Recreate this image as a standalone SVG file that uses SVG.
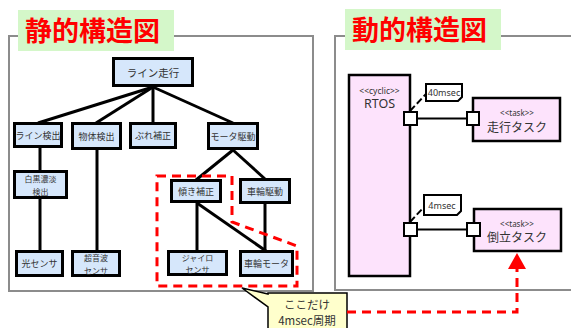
<svg xmlns="http://www.w3.org/2000/svg" width="571" height="328" viewBox="0 0 571 328">
<style>
.frame{fill:#fff;stroke:#8c8c8c;stroke-width:2}
.tbg{fill:#d4f7c9}
.title{font-family:"Noto Sans CJK JP",sans-serif;font-weight:bold;font-size:27px;fill:#ff0000}
.n rect{fill:#d6e7fb;stroke:#000;stroke-width:3}
.n text{font-family:"Noto Sans CJK JP",sans-serif;font-size:9px;fill:#333;text-anchor:middle;dominant-baseline:central}
.n text.two{font-size:8px}
.c line{stroke:#000;stroke-width:3}
.p rect.b{fill:#fde3fc;stroke:#000;stroke-width:2.5}
.port{fill:#fff;stroke:#000;stroke-width:2}
.st{font-family:"Noto Sans",sans-serif;font-size:8px;fill:#333;text-anchor:middle;dominant-baseline:central}
.pt{font-family:"Noto Sans CJK JP",sans-serif;font-size:12px;fill:#333;text-anchor:middle;dominant-baseline:central}
.note{fill:#fff;stroke:#000;stroke-width:2}
.nt{font-family:"Noto Sans",sans-serif;font-size:9px;fill:#333;text-anchor:middle;dominant-baseline:central}
.red{fill:none;stroke:#ff0000;stroke-width:3;stroke-dasharray:9 6}
</style>
<defs>
<marker id="ah" markerWidth="16" markerHeight="18" refX="0" refY="9" orient="auto" markerUnits="userSpaceOnUse" viewBox="0 0 16 18">
<path d="M0,0 L16,9 L0,18 Z" fill="#ff0000"/>
</marker>
</defs>

<rect class="frame" x="9" y="36" width="304" height="255"/>
<rect class="frame" x="335" y="36" width="240" height="254"/>

<g id="title-static">
<rect class="tbg" x="18" y="10" width="156" height="41"/>
<text class="title" x="25" y="41">静的構造図</text>
</g>
<g id="title-dynamic">
<rect class="tbg" x="345" y="9" width="156" height="41"/>
<text class="title" x="352" y="40">動的構造図</text>
</g>

<g id="connectors" class="c">
<line x1="153" y1="87" x2="38" y2="123"/>
<line x1="153" y1="87" x2="96" y2="123"/>
<line x1="153" y1="87" x2="153" y2="123"/>
<line x1="153" y1="87" x2="233" y2="123"/>
<line x1="40" y1="148" x2="40" y2="171"/>
<line x1="40" y1="199" x2="40" y2="251"/>
<line x1="97" y1="150" x2="97" y2="251"/>
<line x1="233" y1="150" x2="196" y2="180"/>
<line x1="233" y1="150" x2="265" y2="179"/>
<line x1="197" y1="203" x2="197" y2="251"/>
<line x1="197" y1="203" x2="266" y2="251"/>
<line x1="265" y1="204" x2="265" y2="251"/>
</g>

<g id="n-line-run" class="n"><rect x="113.5" y="58.5" width="79" height="27"/><text x="153" y="72" style="font-size:10.5px">ライン走行</text></g>
<g id="n-line-detect" class="n"><rect x="14.5" y="123.5" width="47" height="23"/><text x="38" y="135">ライン検出</text></g>
<g id="n-obj-detect" class="n"><rect x="72.5" y="123.5" width="48" height="25"/><text x="96.5" y="136">物体検出</text></g>
<g id="n-shake" class="n"><rect x="130.5" y="123.5" width="45" height="24"/><text x="153" y="135.5">ぶれ補正</text></g>
<g id="n-motor-drive" class="n"><rect x="208.5" y="123.5" width="49" height="25"/><text x="233" y="136">モータ駆動</text></g>
<g id="n-bw" class="n"><rect x="14.5" y="171.5" width="52" height="26"/><text class="two" x="40.5" y="178.5">白黒濃淡<tspan x="40.5" dy="12">検出</tspan></text></g>
<g id="n-tilt" class="n"><rect x="171.5" y="180.5" width="49" height="21"/><text x="196" y="191">傾き補正</text></g>
<g id="n-wheel-drive" class="n"><rect x="240.5" y="179.5" width="49" height="23"/><text x="265" y="191">車輪駆動</text></g>
<g id="n-light" class="n"><rect x="16.5" y="251.5" width="46" height="24"/><text x="39.5" y="263.5">光センサ</text></g>
<g id="n-sonic" class="n"><rect x="72.5" y="251.5" width="47" height="24"/><text class="two" x="96" y="257.5">超音波<tspan x="96" dy="12">センサ</tspan></text></g>
<g id="n-gyro" class="n"><rect x="168.5" y="251.5" width="58" height="23"/><text class="two" x="197.5" y="257">ジャイロ<tspan x="197.5" dy="12">センサ</tspan></text></g>
<g id="n-wheel-motor" class="n"><rect x="240.5" y="251.5" width="52" height="24"/><text x="266.5" y="263.5">車輪モータ</text></g>

<path id="highlight" class="red" d="M157,176 L232,176 L232,222 L297,246 L297,286 L157,286 Z"/>

<g id="rtos" class="p">
<rect class="b" x="349" y="75" width="61" height="201"/>
<text class="st" x="379.5" y="90" style="font-size:8.5px">&lt;&lt;cyclic&gt;&gt;</text>
<text x="379.5" y="103" style="font-family:'Noto Sans',sans-serif;font-size:12.5px;fill:#333;text-anchor:middle;dominant-baseline:central">RTOS</text>
</g>
<g id="task-run" class="p">
<rect class="b" x="473" y="98" width="87" height="43"/>
<text class="st" x="517" y="112">&lt;&lt;task&gt;&gt;</text>
<text class="pt" x="517" y="126">走行タスク</text>
</g>
<g id="task-balance" class="p">
<rect class="b" x="474" y="209" width="87" height="42"/>
<text class="st" x="517" y="223">&lt;&lt;task&gt;&gt;</text>
<text class="pt" x="517" y="236">倒立タスク</text>
</g>

<g id="ports">
<line x1="417" y1="118.5" x2="467" y2="118.5" stroke="#000" stroke-width="2"/>
<line x1="417" y1="229.5" x2="467" y2="229.5" stroke="#000" stroke-width="2"/>
<rect class="port" x="404" y="112" width="13" height="13"/>
<rect class="port" x="467" y="112" width="12" height="13"/>
<rect class="port" x="404" y="223" width="13" height="13"/>
<rect class="port" x="467" y="223" width="13" height="13"/>
<line x1="410" y1="111" x2="426" y2="94" stroke="#000" stroke-width="2" stroke-dasharray="7 3"/>
<line x1="410" y1="222" x2="424" y2="207" stroke="#000" stroke-width="2" stroke-dasharray="7 3"/>
</g>

<g id="note-40">
<path class="note" d="M426,84 L462,84 L462,97 L458,101 L426,101 Z"/>
<text class="nt" x="444" y="92.5">40msec</text>
</g>
<g id="note-4">
<path class="note" d="M424,195 L461,195 L461,211 L457,215 L424,215 Z"/>
<text class="nt" x="442" y="205">4msec</text>
</g>

<g id="callout">
<path d="M242,288 L268,294 L268,293 L347,293 L347,333 L268,333 L268,307 Z" fill="#ffffcc" stroke="#000" stroke-width="1.5"/>
<text x="307" y="303.5" style="font-family:'Noto Sans CJK JP',sans-serif;font-size:11.5px;fill:#333;text-anchor:middle;dominant-baseline:central">ここだけ<tspan x="307" dy="16.8">4msec周期</tspan></text>
</g>

<path id="callout-arrow" class="red" d="M347,312 L517,312 L517,269" marker-end="url(#ah)"/>
</svg>
